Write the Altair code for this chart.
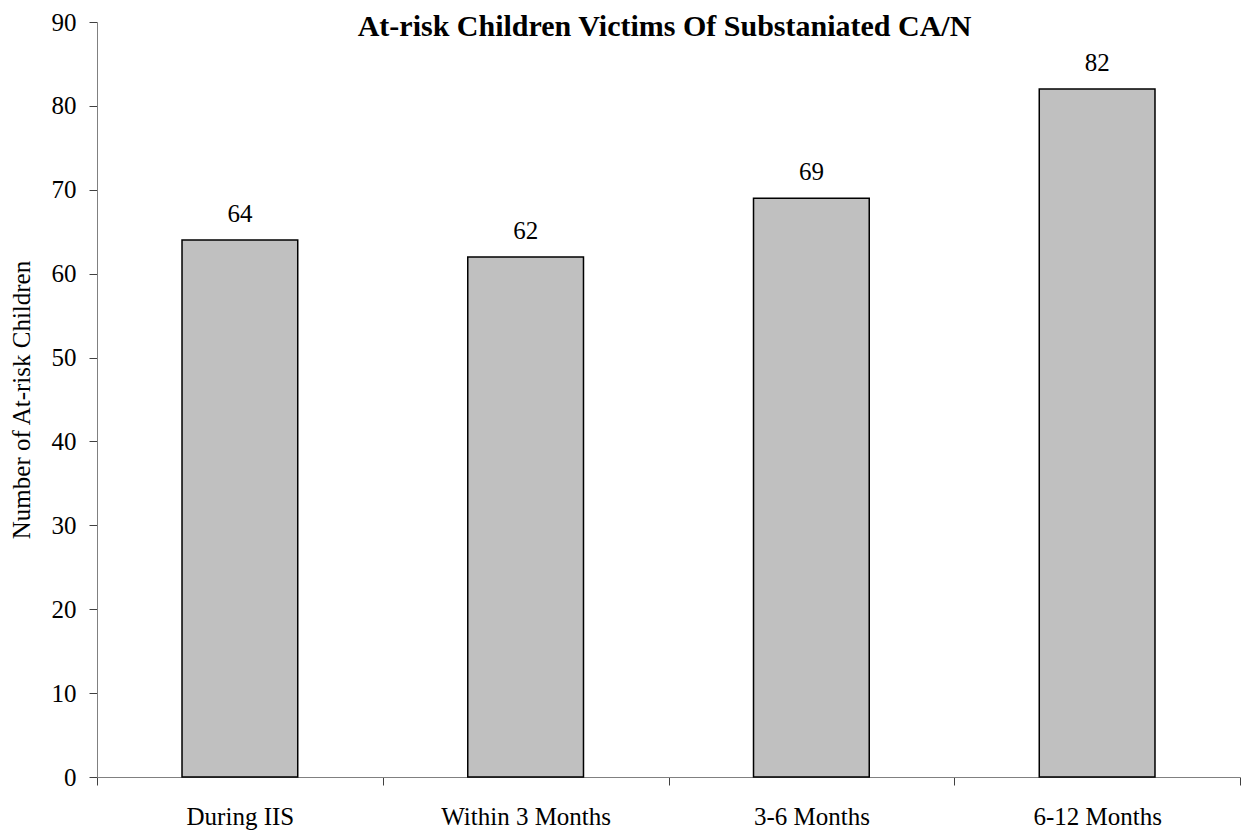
import altair as alt
import pandas as pd

categories = ["During IIS", "Within 3 Months", "3-6 Months", "6-12 Months"]
values = [64, 62, 69, 82]
y_ticks = [0, 10, 20, 30, 40, 50, 60, 70, 80, 90]
title_text = ["At-risk Children Victims Of Substaniated CA/N"]

df = pd.DataFrame({"period": categories, "count": values})
title_df = pd.DataFrame({"t": title_text})

FONT = "Liberation Serif"
W, H = 1143, 755

base = alt.Chart(df).encode(
    x=alt.X(
        "period:N",
        sort=categories,
        scale=alt.Scale(paddingInner=0, paddingOuter=0),
        axis=alt.Axis(
            title=None,
            labelAngle=0,
            tickBand="extent",
            tickSize=8,
            labelPadding=19,
            labelFont=FONT,
            labelFontSize=25,
            labelColor="black",
            domainColor="#808080",
            tickColor="#404040",
            grid=False,
        ),
    ),
    y=alt.Y(
        "count:Q",
        scale=alt.Scale(domain=[0, 90], nice=False),
        axis=alt.Axis(
            title="Number of At-risk Children",
            values=y_ticks,
            tickSize=8,
            labelPadding=13,
            labelFont=FONT,
            labelFontSize=25,
            labelColor="black",
            titleFont=FONT,
            titleFontSize=25,
            titleFontWeight="normal",
            titleColor="black",
            titlePadding=17,
            domainColor="#808080",
            tickColor="#404040",
            grid=False,
        ),
    ),
)

bars = base.mark_bar(
    width=alt.RelativeBandSize(0.405),
    color="#C0C0C0",
    stroke="black",
    strokeWidth=1.5,
)

labels = base.mark_text(
    font=FONT, fontSize=25, color="black", baseline="alphabetic", dy=-18
).encode(text="count:Q")

title = alt.Chart(title_df).mark_text(
    font=FONT, fontSize=30, fontWeight="bold", color="black",
    align="center", baseline="alphabetic",
).encode(
    text="t:N",
    x=alt.value(W / 2 - 4),
    y=alt.value(14),
)

chart = (
    alt.layer(bars, labels, title)
    .properties(
        width=W,
        height=H,
        padding={"left": 89, "top": 14, "right": 3, "bottom": 60},
        autosize=alt.AutoSizeParams(type="none"),
    )
    .configure_view(stroke=None)
)

chart.save("out.html", embed_options={"renderer": "svg", "actions": False})
